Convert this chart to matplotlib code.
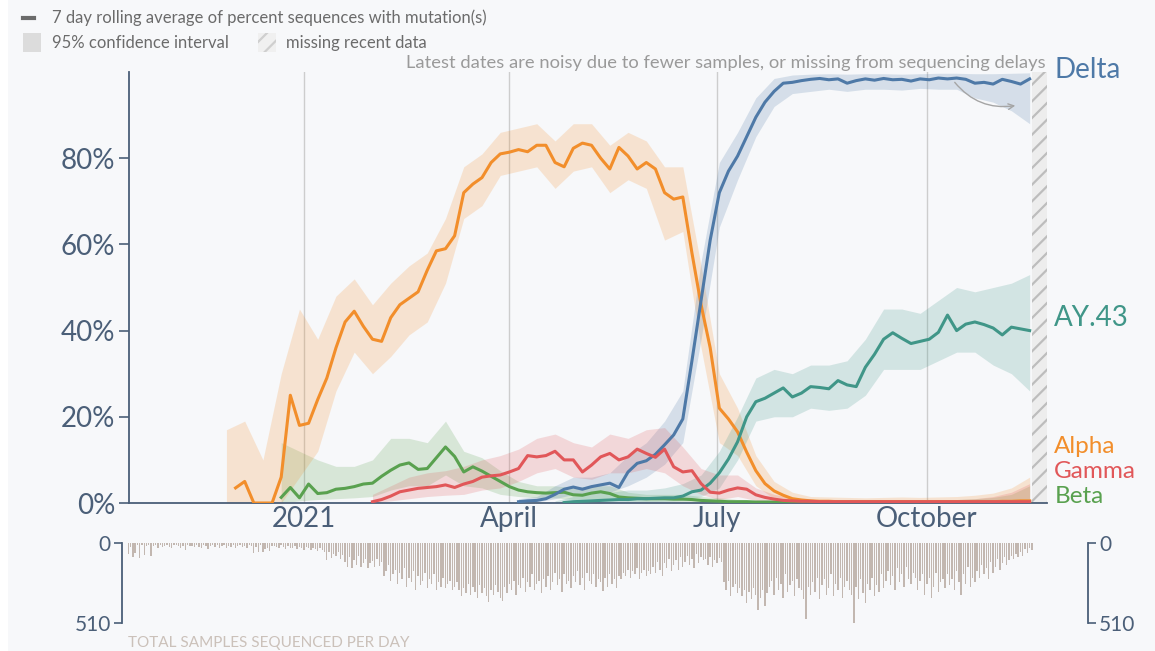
import numpy as np
import pandas as pd
import matplotlib
matplotlib.use("Agg")
import matplotlib.pyplot as plt
import matplotlib.dates as mdates
from matplotlib.patches import Rectangle

plt.rcParams['font.family'] = ['Lato', 'DejaVu Sans']
plt.rcParams['hatch.linewidth'] = 1.6

# ---- data (percent of sequences, lines every 4 days, CI every 8 days) ----
alpha_start = '2020-12-02'
alpha_pct = [3.5, 5, 0, 0, 0, 6, 25, 18, 18.5, 24,
             29, 36, 42, 44.5, 41, 38, 37.5, 43, 46, 47.5,
             49, 54, 58.5, 59, 62, 72, 74, 75.5, 79, 81,
             81.4, 82, 81.5, 83, 83, 79, 78, 82.3, 83.5, 83,
             80, 77.5, 82.5, 80.5, 77.5, 79, 77.5, 72, 70.5, 71,
             58, 46, 36, 22, 19.5, 16.5, 11.8, 7.5, 4.5, 2.8,
             1.8, 1.0, 0.7, 0.5, 0.4, 0.4, 0.3, 0.3, 0.3, 0.3,
             0.3, 0.3, 0.3, 0.3, 0.3, 0.3, 0.3, 0.3, 0.3, 0.3,
             0.3, 0.3, 0.3, 0.3, 0.4, 0.4, 0.5, 0.5]
alpha_ci_start = '2020-11-28'
alpha_lo = [0, 0, 0, 0, 6, 12, 26, 35, 30, 34,
            39, 42, 51, 66, 69, 76, 77, 78, 73, 77,
            78, 72, 75, 73, 61, 63, 36, 14, 11, 4,
            1, 0.3, 0, 0, 0, 0, 0, 0, 0, 0,
            0, 0, 0, 0, 0]
alpha_hi = [17, 19, 10, 30, 45, 38, 48, 52, 46, 51,
            55, 58, 66, 78, 81, 86, 87, 88, 84, 88,
            88, 83, 86, 84, 78, 78, 55, 30, 22, 11,
            5, 2.5, 1.5, 1.4, 1.3, 1.2, 1.3, 1.4, 1.3, 1.4,
            1.5, 1.8, 2.3, 3.5, 6]

beta_start = '2020-12-22'
beta_pct = [1.3, 3.6, 1.2, 4.4, 2.2,
            2.4, 3.2, 3.4, 3.8, 4.4, 4.6, 6.2, 7.6, 8.8, 9.3,
            7.8, 8, 10.5, 13, 10.8, 7.2, 8.4, 7.4, 6.2, 5,
            3.8, 3, 2.6, 2.4, 2.3, 2.4, 2.5, 1.9, 1.8, 2.3,
            2.6, 2.2, 1.4, 1.2, 1.1, 1.0, 1.0, 1.0, 0.9, 0.9,
            0.8, 0.6, 0.5, 0.4, 0.3, 0.3, 0.3, 0.2, 0.2, 0.2,
            0.2, 0.2, 0.2, 0.2, 0.2, 0.2, 0.2, 0.2, 0.2, 0.2,
            0.2, 0.2, 0.2, 0.2, 0.2, 0.2, 0.2, 0.2, 0.2, 0.2,
            0.2, 0.2, 0.2, 0.2, 0.2, 0.2, 0.2, 0.2]
beta_ci_start = '2020-12-22'
beta_lo = [0, 0.5, 0.8, 1, 1.2, 1.5, 3,
           4, 4, 6.5, 4, 3.5, 2, 1.5, 1.2, 1.2, 0.8,
           1, 1, 0.5, 0.4, 0.4, 0.3, 0.2, 0.1, 0, 0,
           0, 0, 0, 0, 0, 0, 0, 0, 0, 0,
           0, 0, 0, 0, 0]
beta_hi = [14, 12, 10, 8.5, 8.5, 10, 15,
           15, 14, 19, 12, 10.5, 7.5, 5, 4, 4, 3.5,
           4, 4, 2.5, 2, 2, 2, 1.5, 1.2, 0.8, 0.8,
           0.8, 0.8, 0.8, 0.8, 0.8, 0.8, 0.8, 0.8, 0.8, 0.8,
           0.8, 1, 1.3, 2, 4]

gamma_start = '2021-01-31'
gamma_pct = [0.3, 0.8, 1.6, 2.6, 3,
             3.4, 3.6, 3.8, 4.2, 3.6, 4.4, 5, 6, 6.3, 6.5,
             7.2, 8, 11, 10.7, 11, 12, 10, 10, 7.2, 8.8,
             10.7, 11.5, 10, 10.7, 12.5, 11.5, 10.6, 12.5, 8.4, 7.2,
             7.5, 4.5, 2.5, 2.3, 3, 3.5, 3.2, 1.9, 1.3, 0.9,
             0.6, 0.5, 0.4, 0.4, 0.3, 0.3, 0.3, 0.3, 0.3, 0.3,
             0.3, 0.3, 0.3, 0.3, 0.3, 0.3, 0.3, 0.3, 0.3, 0.3,
             0.3, 0.3, 0.3, 0.3, 0.3, 0.3, 0.3, 0.3]
gamma_ci_start = '2021-01-31'
gamma_lo = [0, 0.5,
            1, 1.5, 1.8, 2, 3, 3.5, 5, 7, 8, 6,
            5.5, 7, 7, 8, 7, 4, 2, 0.8, 1.5, 0.6,
            0.3, 0.1, 0, 0, 0, 0, 0, 0, 0, 0,
            0, 0, 0, 0, 0]
gamma_hi = [2, 4,
            6, 7, 7.5, 8.5, 10, 11, 12.5, 15, 16, 14,
            13, 16, 15, 17, 17.5, 13, 8, 6.5, 6.5, 3.5,
            2, 1.2, 0.8, 0.8, 0.8, 0.8, 0.8, 0.8, 0.8, 0.8,
            0.8, 1, 1.5, 2.5, 4.5]

delta_start = '2021-04-05'
delta_pct = [0.3, 0.5, 0.6, 1.0, 2, 3.2, 3.7, 3.2, 3.8,
             4.2, 4.6, 3.6, 7.2, 9.2, 9.8, 11.3, 13.5, 15.8, 19.5,
             33, 47, 61, 72, 77, 80.5, 85, 89.5, 93, 95.5,
             97.4, 97.6, 98, 98.3, 98.5, 98.2, 98.4, 97.4, 98, 98.4,
             98.1, 98.5, 98.2, 98.3, 97.9, 98.4, 98.2, 98.6, 98.4, 98.6,
             98.3, 97.4, 97.6, 97.2, 98.3, 97.8, 97.2, 98.4]
delta_ci_start = '2021-04-05'
delta_lo = [0, 0.2, 1, 2,
            2, 2.5, 4, 6, 9, 14, 38, 64, 75, 85,
            92, 95, 95.5, 96, 95.5, 96, 96, 95.8, 96.2, 96,
            96, 94, 93, 91, 88]
delta_hi = [1, 1.5, 4, 6,
            6, 7, 11, 14, 19, 26, 56, 79, 86, 94,
            98.5, 99.3, 99.5, 99.6, 99.5, 99.6, 99.6, 99.5, 99.6, 99.7,
            99.7, 99.6, 99.6, 99.7, 99.8]

ay43_start = '2021-04-25'
ay43_pct = [0.1, 0.3, 0.4, 0.5,
            0.6, 0.7, 0.8, 0.8, 1.0, 1.0, 1.1, 1.2, 1.2, 1.6,
            2.6, 3, 4.6, 7, 10.2, 14.2, 20, 23.5, 24.3, 25.5,
            26.7, 24.6, 25.5, 27, 26.8, 26.5, 28.4, 27.4, 27, 31.5,
            34.5, 38, 39.5, 38.2, 37, 37.5, 38, 39.6, 43.6, 40,
            41.5, 42, 41.4, 40.6, 39, 40.8, 40.4, 40]
ay43_ci_start = '2021-04-21'
ay43_lo = [0, 0,
           0.1, 0.1, 0.2, 0.3, 0.4, 0.6, 1.5, 3.5, 10, 19,
           20, 20, 22, 21.5, 22, 25, 31, 31, 31, 33,
           35, 35, 32, 30, 26]
ay43_hi = [0.5, 1.5,
           2, 2.5, 3, 3, 3.5, 4.5, 6.5, 12, 20, 29,
           31, 30, 32, 32, 33, 38, 45, 45, 44, 47,
           50, 49, 50, 51, 53]

# total samples sequenced per day, from 2020-10-16
samples_start = '2020-10-16'
samples = [70, 25, 90, 65, 15, 98, 10, 75, 20, 12, 85, 18,
           14, 30, 10, 25, 18, 12, 28, 35,
           15, 10, 22, 30, 18, 45, 12, 20, 16, 28,
           10, 25, 33, 14, 20, 40, 18, 12, 26, 15,
           30, 22, 10, 35, 18, 24, 14, 30, 20, 12,
           25, 18, 30, 15, 22,
           65, 25, 55, 15, 60, 40, 30, 48, 22, 18,
           25, 35, 14, 28, 40,
           20, 30, 35, 16, 38, 25, 30, 42, 28, 35,
           45, 30, 40, 50, 35, 45,
           60, 108, 55, 95, 70, 85, 60, 100, 75,
           120, 150, 90, 160, 110, 140, 80, 155, 125, 100, 160, 130, 115, 150, 100, 145, 120,
           210, 180, 140, 240, 200, 170, 260, 190,
           230, 160, 280, 220, 250, 180, 300, 210, 270, 240,
           190, 290, 230, 260, 200, 300, 250, 280, 220, 290,
           260, 240, 300, 280, 250,
           300, 340, 290, 320, 260,
           330, 280, 310, 350, 270, 320, 290, 340, 378, 300,
           330, 270, 310, 350, 368,
           280, 320, 260, 300, 240,
           330, 270, 290, 220, 310, 250, 280, 200, 300, 260,
           240, 320, 230, 280, 210, 300, 250, 190, 270, 230,
           310, 200, 260, 240, 290, 210, 250, 180, 270, 220,
           300, 190, 240, 260, 200, 280, 230,
           250, 306, 220, 280, 200, 260, 230, 290, 210,
           230, 190, 210, 170, 220, 180, 200, 160, 230, 190, 170, 210, 180, 200,
           150, 190, 120, 170, 210, 130, 160, 100, 180, 140,
           110, 170, 90, 150, 120, 80, 140, 100, 160, 70,
           130, 90, 110,
           100, 140, 90, 150, 110, 130, 95, 120,
           250, 300, 243, 337, 280, 260, 320, 290,
           340, 300, 380, 310, 360, 290, 330, 424, 350, 300, 400, 320,
           280, 240, 330, 220, 300, 260, 350, 200, 310, 270, 240, 340, 230, 290,
           300, 360, 482, 280, 330,
           250, 310, 220, 360, 270, 230, 330, 290, 200, 340, 260, 300, 220, 350, 280, 240,
           300, 330,
           507,
           280, 360, 230, 320, 380, 260, 300, 220, 340, 270, 310, 200, 290,
           240, 180, 270, 210, 300, 160, 250, 200, 280, 150, 230, 260, 190, 220,
           300, 240, 200, 330, 260, 220, 350, 280, 190, 310, 250, 230, 290, 200, 270,
           230, 300, 180, 250, 330, 200, 260, 150, 280, 220,
           250, 180, 220, 140, 200, 160, 230, 120, 190, 150, 100, 170, 130, 90, 140, 110, 80,
           100, 70, 90, 55, 80, 40, 65, 30, 45]

month_ticks = ['2021-01-01', '2021-04-01', '2021-07-01', '2021-10-01']
month_labels = ['2021', 'April', 'July', 'October']
missing_from = '2021-11-16'

# ---- styling ----
SLATE = '#4b5f78'
BG = '#f7f8fa'
colors = {'Delta': '#4e79a7', 'AY.43': '#409688', 'Alpha': '#f28e2b',
          'Gamma': '#e15759', 'Beta': '#59a14f'}


def dnum(start, n, step):
    return mdates.date2num(pd.date_range(start, periods=n, freq='%dD' % step))


def dday(s, off=0.0):
    return mdates.date2num(pd.Timestamp(s)) + off


W, H = 1155, 651
fig = plt.figure(figsize=(W / 100, H / 100), dpi=100, facecolor=BG)
fig.patches.append(Rectangle((0, 0), 8 / W, 1, transform=fig.transFigure,
                             facecolor='white', edgecolor='none', zorder=-5))

ax = fig.add_axes([129 / W, 1 - 503 / H, 918 / W, 431 / H])
ax.set_facecolor('none')
jan1 = '2021-01-01'
ax.set_xlim(dday(jan1, -76.7), dday(jan1, 325.6))
ax.set_ylim(0, 100)

for s in ['top', 'right']:
    ax.spines[s].set_visible(False)
for s in ['left', 'bottom']:
    ax.spines[s].set_color(SLATE)
    ax.spines[s].set_linewidth(1.3)

ax.set_yticks([0, 20, 40, 60, 80])
ax.set_yticklabels(['%d%%' % v for v in [0, 20, 40, 60, 80]])
ax.set_xticks([dday(m) for m in month_ticks])
ax.set_xticklabels(month_labels)
ax.tick_params(axis='y', colors=SLATE, labelsize=20, length=7, width=1.2, pad=3)
ax.tick_params(axis='x', colors=SLATE, labelsize=20, length=0, pad=2)
ax.grid(axis='x', color='#cdcdcd', lw=1)
ax.set_axisbelow(True)

# missing recent data band
ax.axvspan(dday(missing_from), ax.get_xlim()[1], facecolor='#ededed',
           edgecolor='#bdbdbd', hatch='//', lw=0, zorder=1)

series = [
    ('Beta', beta_start, beta_pct, beta_ci_start, beta_lo, beta_hi),
    ('Alpha', alpha_start, alpha_pct, alpha_ci_start, alpha_lo, alpha_hi),
    ('AY.43', ay43_start, ay43_pct, ay43_ci_start, ay43_lo, ay43_hi),
    ('Delta', delta_start, delta_pct, delta_ci_start, delta_lo, delta_hi),
    ('Gamma', gamma_start, gamma_pct, gamma_ci_start, gamma_lo, gamma_hi),
]
for name, s0, vals, c0, lo, hi in series:
    xc = dnum(c0, len(lo), 8)
    ax.fill_between(xc, lo, hi, color=colors[name], alpha=0.2, lw=0, zorder=2)
for name, s0, vals, c0, lo, hi in series:
    x = dnum(s0, len(vals), 4)
    ax.plot(x, vals, color=colors[name], lw=2.2, zorder=3,
            solid_joinstyle='round')

# right-hand labels (stacked like the original, spaced a touch wider)
label_y = {'Delta': 100.5, 'AY.43': 42.9, 'Alpha': 13.2, 'Gamma': 7.3, 'Beta': 1.4}
label_size = {'Delta': 20, 'AY.43': 20, 'Alpha': 17.5, 'Gamma': 17.5, 'Beta': 17.5}
for name, yv in label_y.items():
    ax.text(1.008, yv, name, transform=ax.get_yaxis_transform(), color=colors[name],
            fontsize=label_size[name], va='center', ha='left', clip_on=False)

ax.text(0.998, 102.1, 'Latest dates are noisy due to fewer samples, or missing from sequencing delays',
        transform=ax.get_yaxis_transform(), ha='right', va='center', fontsize=13.2,
        color='#9a9a9a', clip_on=False)
ax.annotate('', xy=(dday(jan1, 312.9), 92.3), xytext=(dday(jan1, 284.4), 98.1),
            arrowprops=dict(arrowstyle='->', color='#a5a5a5', lw=1,
                            connectionstyle='arc3,rad=0.3'))

# legend
fig.add_artist(plt.Line2D([23 / W, 34 / W], [1 - 18 / H, 1 - 18 / H], color='#6b6b6b', lw=3))
fig.text(52 / W, 1 - 18 / H, '7 day rolling average of percent sequences with mutation(s)',
         fontsize=12, color='#6b6b6b', va='center')
fig.patches.append(Rectangle((23 / W, 1 - 52 / H), 18 / W, 19 / H, transform=fig.transFigure,
                             facecolor='#dcdcdc', edgecolor='none'))
fig.text(52 / W, 1 - 43 / H, '95% confidence interval', fontsize=12, color='#6b6b6b', va='center')
fig.patches.append(Rectangle((258 / W, 1 - 52 / H), 18 / W, 19 / H, transform=fig.transFigure,
                             facecolor='#f0f0f0', edgecolor='#cfcfcf', hatch='//', lw=0))
fig.text(286 / W, 1 - 43 / H, 'missing recent data', fontsize=12, color='#6b6b6b', va='center')

# samples per day
axb = fig.add_axes([122 / W, 1 - 623 / H, 966 / W, 80 / H])
axb.set_facecolor('none')
axb.set_xlim(dday(jan1, -79.75), dday(jan1, 343.6))
axb.set_ylim(510, 0)
xb = dnum(samples_start, len(samples), 1)
axb.bar(xb, samples, width=0.6, color='#c2b7b0', align='center')
for s in ['top', 'bottom']:
    axb.spines[s].set_visible(False)
for s in ['left', 'right']:
    axb.spines[s].set_color(SLATE)
    axb.spines[s].set_linewidth(1.3)
axb.set_xticks([])
axb.set_yticks([0, 510])
axb.tick_params(axis='y', left=True, right=True, labelleft=True, labelright=True,
                colors=SLATE, labelsize=15, length=6, width=1.2, pad=2)
fig.text(128 / W, 1 - 643 / H, 'TOTAL SAMPLES SEQUENCED PER DAY', fontsize=11,
         color='#cbc1ba', va='center')

fig.savefig('out.png', dpi=100, facecolor=BG)
